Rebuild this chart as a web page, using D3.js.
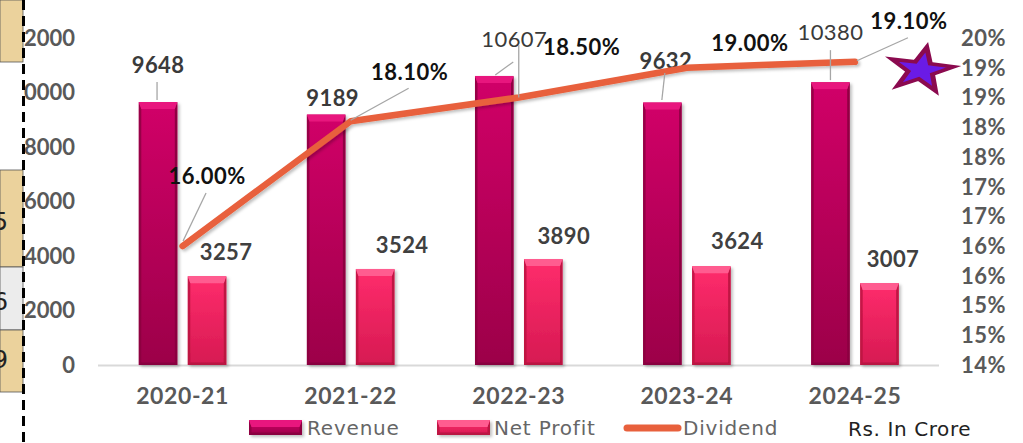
<!DOCTYPE html>
<html>
<head>
<meta charset="utf-8">
<script src="https://cdn.jsdelivr.net/npm/d3@7"></script>
<style>
  html, body { margin: 0; padding: 0; background: #fff; }
  svg { display: block; }
</style>
</head>
<body>
<svg id="chart" width="1023" height="443"></svg>
<script>
const years = ["2020-21", "2021-22", "2022-23", "2023-24", "2024-25"]
const revenue = [9648, 9189, 10607, 9632, 10380]
const netProfit = [3257, 3524, 3890, 3624, 3007]
const dividend = [16.00, 18.10, 18.50, 19.00, 19.10]
const leftTicks = [0, 2000, 4000, 6000, 8000, 10000, 12000]
const rightTicks = [14, 14.5, 15, 15.5, 16, 16.5, 17, 17.5, 18, 18.5, 19, 19.5]
const rightTickLabels = ["14%", "15%", "15%", "16%", "16%", "17%", "17%", "18%", "18%", "19%", "19%", "20%"]

// label placement (layout only): offsets from the mark
const revLabelPos = [[0, -29], [6.5, -8.5], [20, -29], [3.5, -33.5], [0, -42]]
const revLabelWeight = [700, 700, 400, 700, 400]
const revLeader = [[[-1, -20], [-1, -2]], null, [[19, -14], [1, -1]], [[2.5, -29.5], [-0.5, -2.5]], [[0, -32], [0, -2]]]
const npLabelPos = [[19, -16], [27, -16], [20.5, -15], [26, -17], [13.5, -16]]
const divLabelPos = [[24.5, -62], [59, -41], [63, -42.5], [63, -17], [54, -33]]
const divLeader = [[[23.5, -53], [0.5, -5]], [[58, -33], [0, -1]], [[0, -52.5], [0, 0]], null, [[2, -1], [53, -24]]]

const svg = d3.select("#chart")
const defs = svg.append("defs")

const grad = (id, stops, vertical) => {
  let g = defs.append("linearGradient").attr("id", id)
    .attr("x1", 0).attr("y1", 0).attr("x2", vertical ? 0 : 1).attr("y2", vertical ? 1 : 0)
  stops.forEach(s => g.append("stop").attr("offset", s[0]).attr("stop-color", s[1]))
}
grad("revBody", [[0, "#d10068"], [1, "#9c0049"]], true)
grad("npBody", [[0, "#ff2c6c"], [1, "#d61a52"]], true)

let sh = defs.append("filter").attr("id", "shadow").attr("x", "-20%").attr("y", "-20%").attr("width", "150%").attr("height", "150%")
sh.append("feDropShadow").attr("dx", 2).attr("dy", 2).attr("stdDeviation", 1.5).attr("flood-color", "#000").attr("flood-opacity", 0.25)

const styles = {
  rev: { body: "url(#revBody)", top: "#e8187e", side: "#8a003f", bottom: "#7c0038" },
  np: { body: "url(#npBody)", top: "#ff5c90", side: "#b8123f", bottom: "#a50e38" }
}

// bevelled bar like the office chart style
function bevelBar(g, x, y, w, h, st) {
  let b = Math.min(7, h / 2), s = 2.5
  let bar = g.append("g").attr("filter", "url(#shadow)")
  bar.append("rect").attr("x", x).attr("y", y).attr("width", w).attr("height", h).attr("fill", st.body)
  bar.append("path").attr("fill", st.side).attr("opacity", 0.8)
    .attr("d", `M${x},${y}L${x + s},${y + b}L${x + s},${y + h - s}L${x},${y + h}Z`)
  bar.append("path").attr("fill", st.side).attr("opacity", 0.9)
    .attr("d", `M${x + w},${y}L${x + w - s},${y + b}L${x + w - s},${y + h - s}L${x + w},${y + h}Z`)
  bar.append("path").attr("fill", st.bottom).attr("opacity", 0.6)
    .attr("d", `M${x},${y + h}L${x + s},${y + h - s}L${x + w - s},${y + h - s}L${x + w},${y + h}Z`)
  bar.append("path").attr("fill", st.top)
    .attr("d", `M${x},${y}L${x + w},${y}L${x + w - s},${y + b}L${x + s},${y + b}Z`)
}

const x0 = d3.scaleBand().domain(years).range([98.5, 939])
const x1 = d3.scaleBand().domain(["rev", "np"]).range([0, x0.bandwidth()]).paddingInner(0.214).paddingOuter(0.822)
const yL = d3.scaleLinear().domain([0, 12000]).range([365, 38])
const yR = d3.scaleLinear().domain([14, 19.5]).range([365, 38])

const numFont = "Lato, 'DejaVu Sans', sans-serif"

// left axis labels
svg.append("g").selectAll("text").data(leftTicks).join("text")
  .attr("x", 75).attr("y", d => yL(d)).attr("dy", "0.36em")
  .attr("text-anchor", "end").attr("font-family", numFont).attr("font-weight", 700)
  .attr("font-size", 22).attr("fill", "#595959").text(d => d)

// right axis labels
svg.append("g").selectAll("text").data(rightTicks).join("text")
  .attr("x", 961).attr("y", d => yR(d)).attr("dy", "0.36em")
  .attr("font-family", numFont).attr("font-weight", 700).attr("letter-spacing", 0.5)
  .attr("font-size", 22).attr("fill", "#595959").text((d, i) => rightTickLabels[i])

// baseline
svg.append("line").attr("x1", 98).attr("x2", 939).attr("y1", yL(0) + 0.5).attr("y2", yL(0) + 0.5)
  .attr("stroke", "#d9d9d9").attr("stroke-width", 2)

// x labels
svg.append("g").selectAll("text").data(years).join("text")
  .attr("x", d => x0(d) + x0.bandwidth() / 2).attr("y", 404)
  .attr("text-anchor", "middle").attr("font-family", numFont).attr("font-weight", 700)
  .attr("font-size", 23).attr("letter-spacing", 0.6).attr("fill", "#595959").text(d => d)

// bars
const bars = svg.append("g")
years.forEach((yr, i) => {
  bevelBar(bars, x0(yr) + x1("rev"), yL(revenue[i]), x1.bandwidth(), yL(0) - yL(revenue[i]), styles.rev)
  bevelBar(bars, x0(yr) + x1("np"), yL(netProfit[i]), x1.bandwidth(), yL(0) - yL(netProfit[i]), styles.np)
})

const leaders = svg.append("g").attr("stroke", "#a6a6a6").attr("stroke-width", 1.3)

// revenue labels
years.forEach((yr, i) => {
  let cx = x0(yr) + x1("rev") + x1.bandwidth() / 2, ty = yL(revenue[i])
  if (revLeader[i]) leaders.append("line")
    .attr("x1", cx + revLeader[i][0][0]).attr("y1", ty + revLeader[i][0][1])
    .attr("x2", cx + revLeader[i][1][0]).attr("y2", ty + revLeader[i][1][1])
  svg.append("text").attr("x", cx + revLabelPos[i][0]).attr("y", ty + revLabelPos[i][1])
    .attr("text-anchor", "middle").attr("font-family", numFont).attr("font-weight", revLabelWeight[i])
    .attr("font-size", 22).attr("letter-spacing", 0.4).attr("fill", "#3a3a3a").text(revenue[i])
})

// net profit labels
years.forEach((yr, i) => {
  let cx = x0(yr) + x1("np") + x1.bandwidth() / 2, ty = yL(netProfit[i])
  svg.append("text").attr("x", cx + npLabelPos[i][0]).attr("y", ty + npLabelPos[i][1])
    .attr("text-anchor", "middle").attr("font-family", numFont).attr("font-weight", 700)
    .attr("font-size", 22).attr("letter-spacing", 0.4).attr("fill", "#404040").text(netProfit[i])
})

// dividend line
const line = d3.line().x((d, i) => x0(years[i]) + x0.bandwidth() / 2).y(d => yR(d))
svg.append("path").datum(dividend).attr("d", line).attr("fill", "none")
  .attr("stroke", "#e8603c").attr("stroke-width", 6.5).attr("stroke-linejoin", "round")
  .attr("stroke-linecap", "round").attr("filter", "url(#shadow)")

dividend.forEach((v, i) => {
  let px = x0(years[i]) + x0.bandwidth() / 2, py = yR(v)
  if (divLeader[i]) leaders.append("line")
    .attr("x1", px + divLeader[i][0][0]).attr("y1", py + divLeader[i][0][1])
    .attr("x2", px + divLeader[i][1][0]).attr("y2", py + divLeader[i][1][1])
  svg.append("text").attr("x", px + divLabelPos[i][0]).attr("y", py + divLabelPos[i][1])
    .attr("text-anchor", "middle").attr("font-family", numFont).attr("font-weight", 700)
    .attr("font-size", 22).attr("letter-spacing", 0.5).attr("fill", "#111").text(d3.format(".2f")(v) + "%")
})
leaders.raise()

// legend
const legendFont = "'DejaVu Sans', sans-serif"
const lg = svg.append("g")
bevelBar(lg, 249, 420, 53, 15, styles.rev)
bevelBar(lg, 437, 420, 53, 15, styles.np)
lg.append("line").attr("x1", 627).attr("x2", 678).attr("y1", 428).attr("y2", 428)
  .attr("stroke", "#e8603c").attr("stroke-width", 7).attr("stroke-linecap", "round")
const legendItems = [["Revenue", 307], ["Net Profit", 494], ["Dividend", 683]]
lg.selectAll("text").data(legendItems).join("text")
  .attr("x", d => d[1]).attr("y", 435).attr("font-family", legendFont).attr("font-size", 20)
  .attr("letter-spacing", 0.8).attr("fill", "#666").text(d => d[0])
svg.append("text").attr("x", 848).attr("y", 436).attr("font-family", legendFont).attr("font-size", 20)
  .attr("letter-spacing", 0.6).attr("fill", "#222").text("Rs. In Crore")

// star
const star = (R, r) => {
  let pts = d3.range(10).map(k => {
    let a = -Math.PI / 2 + k * Math.PI / 5, rr = k % 2 ? r : R
    return [rr * Math.cos(a), rr * Math.sin(a)]
  })
  return "M" + pts.join("L") + "Z"
}
svg.append("path").attr("d", star(33, 13))
  .attr("transform", "translate(921,70) scale(1,0.7) rotate(10)")
  .attr("fill", "#6a1be6").attr("stroke", "#8b0a4f").attr("stroke-width", 5)
  .attr("stroke-linejoin", "miter")

// neighbouring slide element on the left edge
const side = svg.append("g")
side.append("rect").attr("x", 0).attr("y", 0).attr("width", 23).attr("height", 443).attr("fill", "#fff")
const boxes = [[0, 62, "#ebd29c"], [170, 267, "#ebd29c"], [267, 330, "#ececec"], [330, 392, "#ebd29c"]]
boxes.forEach(b => {
  side.append("rect").attr("x", 0).attr("y", b[0]).attr("width", 23).attr("height", b[1] - b[0])
    .attr("fill", b[2]).attr("stroke", "#555").attr("stroke-width", 0.8)
})
const sideText = [["5", 230], ["6", 310], ["9", 368]]
side.selectAll("text").data(sideText).join("text")
  .attr("x", 8).attr("y", d => d[1]).attr("text-anchor", "end").attr("font-family", legendFont)
  .attr("font-size", 24).attr("fill", "#222").text(d => d[0])
side.append("line").attr("x1", 23.5).attr("x2", 23.5).attr("y1", 0).attr("y2", 443)
  .attr("stroke", "#000").attr("stroke-width", 3).attr("stroke-dasharray", "10,6")
</script>
</body>
</html>
